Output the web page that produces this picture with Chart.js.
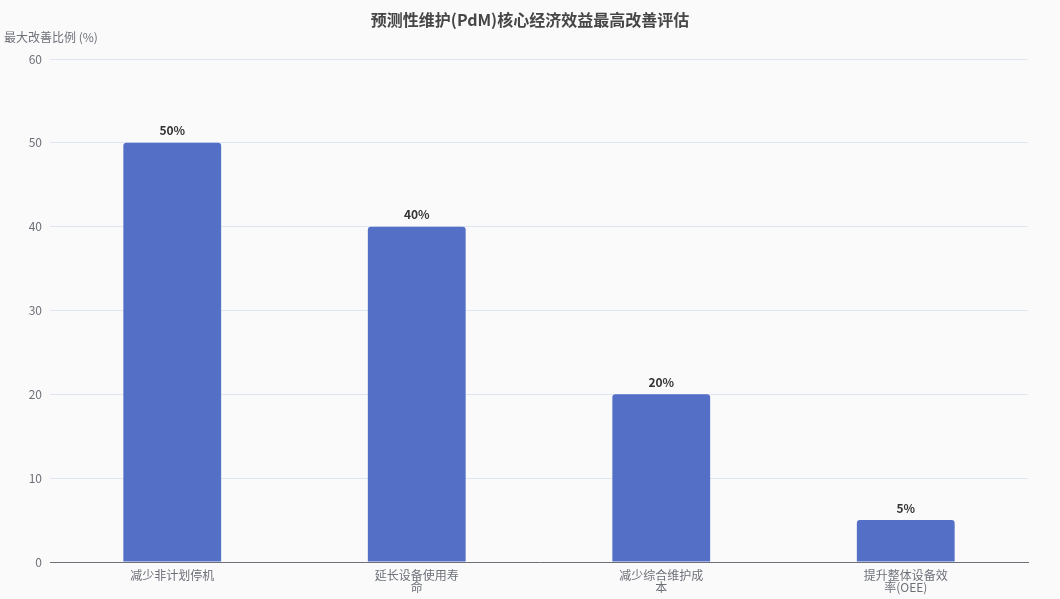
<!DOCTYPE html>
<html>
<head>
<meta charset="utf-8">
<script src="https://cdn.jsdelivr.net/npm/chart.js@4.4.1/dist/chart.umd.min.js"></script>
<style>
  html, body { margin: 0; padding: 0; background: #fafafa; }
  #wrap { width: 1060px; height: 599px; }
</style>
</head>
<body>
<div id="wrap"><canvas id="pdmChart"></canvas></div>
<script>
// 数据
const categories = [
    ['减少非计划停机'],
    ['延长设备使用寿', '命'],
    ['减少综合维护成', '本'],
    ['提升整体设备效', '率(OEE)']
];
const improvementValues = [50, 40, 20, 5];
const yTicks = [0, 10, 20, 30, 40, 50, 60];

const chartTitle = '预测性维护(PdM)核心经济效益最高改善评估';
const yAxisTitle = '最大改善比例 (%)';

const FONT = '"Noto Sans CJK SC", "Noto Sans", sans-serif';

// 标题、轴名和柱顶标签
const textPlugin = {
    id: 'textPlugin',
    afterDatasetsDraw(chart) {
        const ctx = chart.ctx;
        ctx.save();
        ctx.fillStyle = '#464646';
        ctx.font = 'bold 16px ' + FONT;
        ctx.textAlign = 'center';
        ctx.textBaseline = 'middle';
        ctx.fillText(chartTitle, chart.width / 2, 20);

        ctx.fillStyle = '#6e7079';
        ctx.font = '12px ' + FONT;
        ctx.textAlign = 'left';
        ctx.fillText(yAxisTitle, 4, 37);

        const meta = chart.getDatasetMeta(0);
        ctx.fillStyle = '#333';
        ctx.font = 'bold 12px ' + FONT;
        ctx.textAlign = 'center';
        ctx.textBaseline = 'bottom';
        meta.data.forEach((bar, i) => {
            ctx.fillText(improvementValues[i] + '%', bar.x, bar.y - 6);
        });
        ctx.restore();
    }
};

new Chart(document.getElementById('pdmChart'), {
    type: 'bar',
    data: {
        labels: categories,
        datasets: [{
            data: improvementValues,
            backgroundColor: '#5470c6',
            borderRadius: { topLeft: 3, topRight: 3 },
            borderSkipped: 'bottom',
            categoryPercentage: 1,
            barPercentage: 0.4
        }]
    },
    options: {
        responsive: true,
        maintainAspectRatio: false,
        animation: false,
        layout: { padding: { top: 59, right: 32, left: 0, bottom: 0 } },
        plugins: {
            legend: { display: false },
            title: { display: false },
            tooltip: { enabled: false }
        },
        scales: {
            x: {
                grid: { display: false, drawTicks: false },
                border: { color: '#6e7079', width: 1 },
                ticks: {
                    color: '#6e7079',
                    font: { family: FONT, size: 12, lineHeight: 1.05 },
                    padding: 7,
                    maxRotation: 0,
                    autoSkip: false
                },
                afterFit(scale) { scale.height = 37; }
            },
            y: {
                min: 0,
                max: 60,
                afterBuildTicks(scale) {
                    scale.ticks = yTicks.map(v => ({ value: v }));
                },
                grid: { color: '#e0e6f1', drawTicks: false },
                border: { display: false },
                ticks: {
                    color: '#6e7079',
                    font: { family: FONT, size: 12 },
                    padding: 8
                },
                afterFit(scale) { scale.width = 50; }
            }
        }
    },
    plugins: [textPlugin]
});
</script>
</body>
</html>
